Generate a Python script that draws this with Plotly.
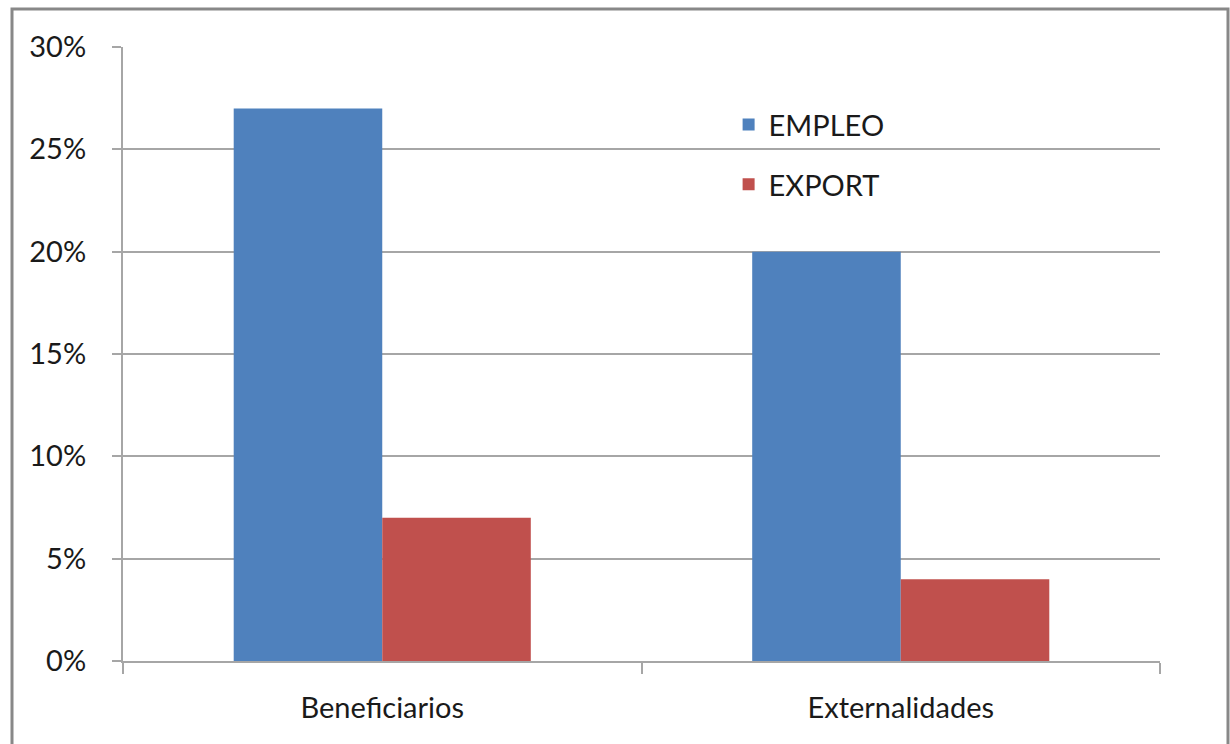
import plotly.graph_objects as go

categories = ["Beneficiarios", "Externalidades"]
empleo = [0.27, 0.20]
export = [0.07, 0.04]

FONT = "Lato"
GRID = "#a6a6a6"

fig = go.Figure()
fig.add_trace(go.Bar(name="EMPLEO", x=categories, y=empleo, marker_color="#4F81BD",
                     marker_line_width=0, legendgroup="a"))
fig.add_trace(go.Bar(name="EXPORT", x=categories, y=export, marker_color="#C0504D",
                     marker_line_width=0, legendgroup="b"))

fig.update_layout(
    width=1230, height=744,
    margin=dict(l=123, r=70, t=47, b=83),
    paper_bgcolor="white", plot_bgcolor="white",
    barmode="group", bargap=0.427, bargroupgap=0,
    font=dict(family=FONT, size=29, color="#1a1a1a"),
    showlegend=True,
    legend=dict(x=0.584, y=0.915, xanchor="left", yanchor="top",
                bgcolor="rgba(0,0,0,0)", tracegroupgap=19,
                font=dict(family=FONT, size=29, color="#1a1a1a"),
                itemwidth=30),
    xaxis=dict(showline=True, linecolor=GRID, linewidth=2, ticks="outside",
               tickson="boundaries", ticklen=11, tickcolor=GRID, tickwidth=2,
               showgrid=False, ticklabelstandoff=20),
    yaxis=dict(range=[0, 0.3], dtick=0.05, tickformat=".0%", showline=True,
               linecolor=GRID, linewidth=2, ticks="outside", ticklen=9,
               tickcolor=GRID, tickwidth=2, showgrid=True, gridcolor=GRID,
               gridwidth=1.5, zeroline=False, ticklabelstandoff=20),
    shapes=[dict(type="rect", xref="paper", yref="paper",
                 x0=(12 - 123) / 1037, x1=(1228 - 123) / 1037,
                 y0=-0.3, y1=(661 - 9) / 614,
                 line=dict(color="#888888", width=3), layer="below")],
)

fig.write_html("out.html")
